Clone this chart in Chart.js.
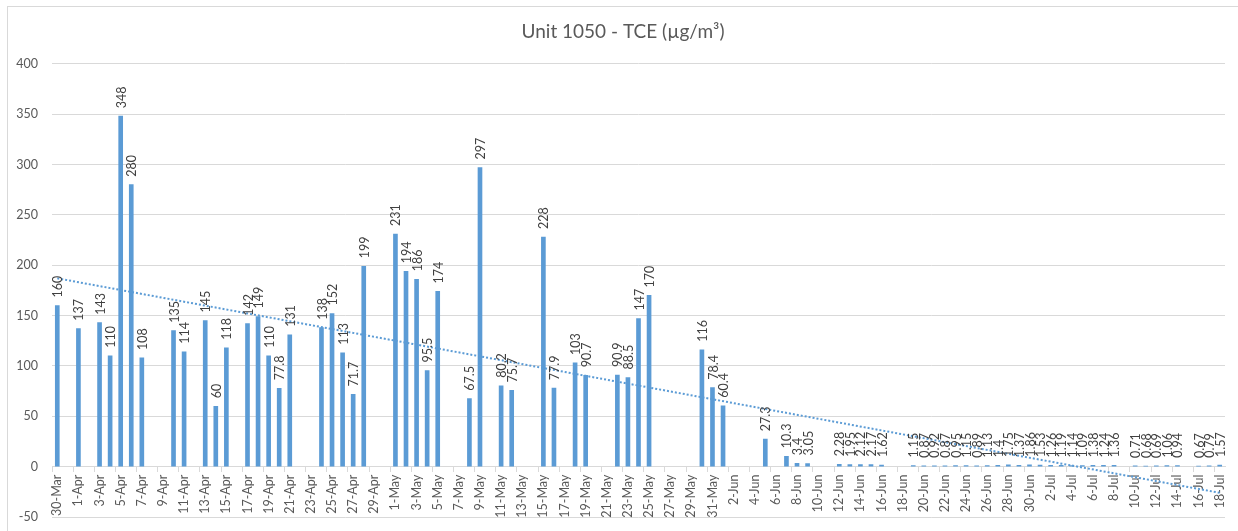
<!DOCTYPE html>
<html>
<head>
<meta charset="utf-8">
<script src="https://cdn.jsdelivr.net/npm/chart.js@4/dist/chart.umd.min.js"></script>
<style>
  html, body { margin: 0; padding: 0; background: #ffffff; }
  #wrap { width: 1238px; height: 531px; }
</style>
</head>
<body>
<div id="wrap"><canvas id="c" width="1238" height="531"></canvas></div>
<script>
const chartTitle = "Unit 1050 - TCE (\u00B5g/m\u00B3)";

const categories = [
  "30-Mar","31-Mar",
  "1-Apr","2-Apr","3-Apr","4-Apr","5-Apr","6-Apr","7-Apr","8-Apr","9-Apr","10-Apr",
  "11-Apr","12-Apr","13-Apr","14-Apr","15-Apr","16-Apr","17-Apr","18-Apr","19-Apr","20-Apr",
  "21-Apr","22-Apr","23-Apr","24-Apr","25-Apr","26-Apr","27-Apr","28-Apr","29-Apr","30-Apr",
  "1-May","2-May","3-May","4-May","5-May","6-May","7-May","8-May","9-May","10-May",
  "11-May","12-May","13-May","14-May","15-May","16-May","17-May","18-May","19-May","20-May",
  "21-May","22-May","23-May","24-May","25-May","26-May","27-May","28-May","29-May","30-May","31-May",
  "1-Jun","2-Jun","3-Jun","4-Jun","5-Jun","6-Jun","7-Jun","8-Jun","9-Jun","10-Jun",
  "11-Jun","12-Jun","13-Jun","14-Jun","15-Jun","16-Jun","17-Jun","18-Jun","19-Jun","20-Jun",
  "21-Jun","22-Jun","23-Jun","24-Jun","25-Jun","26-Jun","27-Jun","28-Jun","29-Jun","30-Jun",
  "1-Jul","2-Jul","3-Jul","4-Jul","5-Jul","6-Jul","7-Jul","8-Jul","9-Jul","10-Jul",
  "11-Jul","12-Jul","13-Jul","14-Jul","15-Jul","16-Jul","17-Jul","18-Jul"
];

const tceValues = [
  160, null,
  137, null, 143, 110, 348, 280, 108, null, null, 135,
  114, null, 145, 60, 118, null, 142, 149, 110, 77.8,
  131, null, null, 138, 152, 113, 71.7, 199, null, null,
  231, 194, 186, 95.5, 174, null, null, 67.5, 297, null,
  80.2, 75.7, null, null, 228, 77.9, null, 103, 90.7, null,
  null, 90.9, 88.5, 147, 170, null, null, null, null, 116, 78.4,
  60.4, null, null, null, 27.3, null, 10.3, 3.4, 3.05, null,
  null, 2.28, 1.95, 2.12, 2.17, 1.62, null, null, 1.15, 0.87,
  0.92, 0.87, 0.95, 1.15, 0.89, 1.13, 1.4, 1.75, 1.37, 1.86,
  1.53, 1.26, 1.19, 1.14, 1.09, 1.38, 1.24, 1.36, null, 0.71,
  0.68, 0.69, 1.06, 0.94, null, 0.67, 0.79, 1.57
];

// Linear trendline: value at first and last category
const trendEnds = [187, -26];

const yTicks = { min: -50, max: 400, step: 50 };

// build trend dataset (only endpoints, line spans the gap)
const trendData = categories.map(() => null);
trendData[0] = trendEnds[0];
trendData[categories.length - 1] = trendEnds[1];

const FONT = "Lato, 'Liberation Sans', sans-serif";
const BLUE = "#5B9BD5";
const GRID = "#d9d9d9";

function zeroPad(s) {
  s.paddingLeft = 0; s.paddingRight = 0; s.paddingTop = 0; s.paddingBottom = 0;
}

const frame = {
  id: 'frame',
  beforeDraw(chart) {
    const ctx = chart.ctx;
    ctx.save();
    ctx.fillStyle = '#ffffff';
    ctx.fillRect(0, 0, chart.width, chart.height);
    ctx.strokeStyle = GRID;
    ctx.lineWidth = 1;
    ctx.strokeRect(7.5, 6.5, 1400, 700);
    ctx.restore();
  }
};

const barLabels = {
  id: 'barLabels',
  afterDatasetsDraw(chart) {
    const ctx = chart.ctx;
    const meta = chart.getDatasetMeta(0);
    const ds = chart.data.datasets[0];
    ctx.save();
    ctx.font = "12.5px " + FONT;
    ctx.fillStyle = "#404040";
    ctx.textAlign = 'left';
    ctx.textBaseline = 'middle';
    meta.data.forEach((el, i) => {
      const v = ds.data[i];
      if (v === null || v === undefined) return;
      ctx.save();
      ctx.translate(el.x + 1, el.y - 8);
      ctx.rotate(-Math.PI / 2);
      ctx.fillText(String(v), 0, 0);
      ctx.restore();
    });
    ctx.restore();
  }
};

new Chart(document.getElementById('c'), {
  type: 'bar',
  data: {
    labels: categories,
    datasets: [
      {
        type: 'bar',
        label: 'TCE',
        data: tceValues,
        backgroundColor: BLUE,
        borderWidth: 0,
        barThickness: 4,
        order: 2
      },
      {
        type: 'line',
        label: 'Linear (TCE)',
        data: trendData,
        borderColor: BLUE,
        borderWidth: 2,
        borderDash: [2, 2],
        pointRadius: 0,
        spanGaps: true,
        fill: false,
        order: 1
      }
    ]
  },
  options: {
    responsive: false,
    animation: false,
    devicePixelRatio: 1,
    layout: { padding: { top: 20, left: 16, right: 8, bottom: 14 } },
    plugins: {
      legend: { display: false },
      tooltip: { enabled: false },
      title: {
        display: true,
        text: chartTitle,
        color: '#595959',
        font: { family: FONT, size: 19, weight: 'normal' },
        padding: { top: 0, bottom: 21 }
      }
    },
    scales: {
      x: {
        type: 'category',
        position: { y: 0 },
        offset: true,
        border: { display: true, color: GRID, width: 1 },
        grid: {
          offset: true,
          drawOnChartArea: false,
          drawTicks: true,
          tickLength: 5,
          color: (c) => (c.index % 2 === 0 || c.index === categories.length) ? GRID : 'rgba(0,0,0,0)'
        },
        afterFit: zeroPad,
        ticks: {
          autoSkip: false,
          minRotation: 90,
          maxRotation: 90,
          padding: 3,
          color: '#595959',
          font: { family: FONT, size: 12.5 },
          callback: function (value, index) {
            return index % 2 === 0 ? categories[index] : '';
          }
        }
      },
      y: {
        min: yTicks.min,
        max: yTicks.max,
        border: { display: false },
        grid: { color: GRID, drawTicks: false },
        afterFit: (s) => { s.width = 36; zeroPad(s); },
        ticks: {
          stepSize: yTicks.step,
          padding: 14,
          color: '#595959',
          font: { family: FONT, size: 12.5 }
        }
      },
      yRight: {
        position: 'right',
        min: yTicks.min,
        max: yTicks.max,
        display: true,
        border: { display: false },
        grid: { display: false, drawOnChartArea: false, drawTicks: false },
        ticks: { display: false },
        afterFit: (s) => { s.width = 5; zeroPad(s); }
      }
    }
  },
  plugins: [frame, barLabels]
});
</script>
</body>
</html>
